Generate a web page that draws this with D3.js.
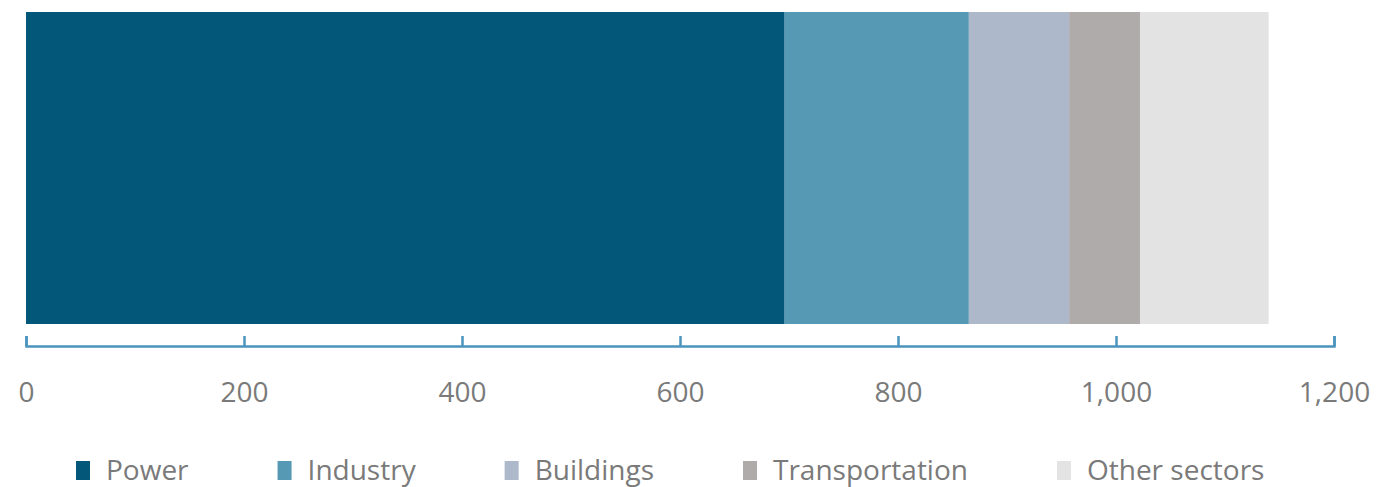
<!DOCTYPE html>
<html>
<head>
<meta charset="utf-8">
<script src="https://cdn.jsdelivr.net/npm/d3@7"></script>
<style>
  html, body { margin: 0; padding: 0; background: #ffffff; }
  svg { display: block; }
</style>
</head>
<body>
<svg id="chart" width="1378" height="487"></svg>
<script>
// Emissions by sector (single stacked bar)
const sectors = ["Power", "Industry", "Buildings", "Transportation", "Other sectors"];
const sectorValues = [696, 169, 92, 65, 118];
const sectorColors = ["#03587a", "#5599b5", "#adb9cb", "#b0abab", "#e4e3e4"];
const tickValues = [0, 200, 400, 600, 800, 1000, 1200];

const width = 1378, height = 487;
const margin = { left: 26, right: 44, top: 12, bottom: 163 };

const svg = d3.select("#chart");

const x = d3.scaleLinear()
  .domain([0, 1200])
  .range([margin.left, width - margin.right]);

// cumulative starts for stacking
let acc = 0;
const segments = sectors.map((name, i) => {
  const seg = { name, start: acc, end: acc + sectorValues[i], color: sectorColors[i] };
  acc += sectorValues[i];
  return seg;
});

const barTop = 12, barBottom = 324;

svg.append("g")
  .selectAll("rect")
  .data(segments)
  .join("rect")
  .attr("x", d => x(d.start))
  .attr("y", barTop)
  .attr("width", d => x(d.end) - x(d.start))
  .attr("height", barBottom - barTop)
  .attr("fill", d => d.color);

// x axis: ticks point up from the baseline
const axisY = 346;
const axis = d3.axisBottom(x)
  .tickValues(tickValues)
  .tickFormat(d3.format(","))
  .tickSizeInner(-10)
  .tickSizeOuter(-10)
  .tickPadding(56);

const gAxis = svg.append("g")
  .attr("transform", `translate(0,${axisY})`)
  .call(axis);

gAxis.select(".domain")
  .attr("stroke", "#4b94bd")
  .attr("stroke-width", 2.5);
gAxis.selectAll(".tick line")
  .attr("stroke", "#4b94bd")
  .attr("stroke-width", 2.5);
gAxis.selectAll(".tick text")
  .attr("dy", 0)
  .attr("fill", "#7a7a7a")
  .attr("font-family", "'Open Sans', sans-serif")
  .attr("font-size", 28);

// legend
const legend = svg.append("g").attr("class", "legend");
const legendY = 480;
let lx = 76;
sectors.forEach((name, i) => {
  const item = legend.append("g");
  item.append("rect")
    .attr("x", lx)
    .attr("y", legendY - 19)
    .attr("width", 14)
    .attr("height", 19)
    .attr("fill", sectorColors[i]);
  const t = item.append("text")
    .attr("x", lx + 30)
    .attr("y", legendY)
    .attr("fill", "#7a7a7a")
    .attr("font-family", "'Open Sans', sans-serif")
    .attr("font-size", 28)
    .text(name);
  lx = lx + 30 + t.node().getComputedTextLength() + 89;
});
</script>
</body>
</html>
